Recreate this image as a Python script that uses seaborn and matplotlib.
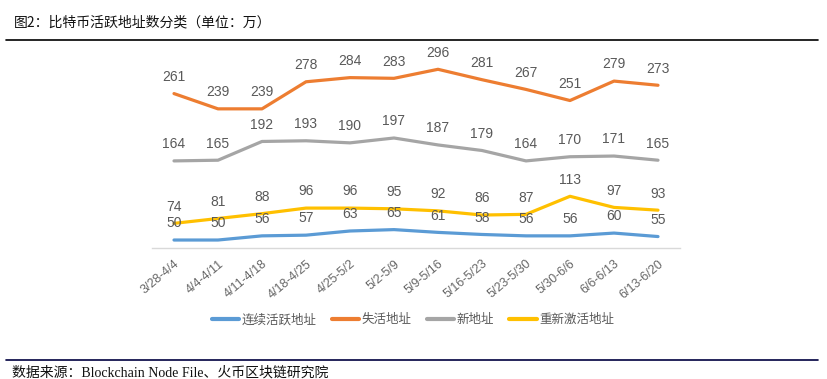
import numpy as np
import pandas as pd
import matplotlib
matplotlib.use("Agg")
import matplotlib.pyplot as plt
import seaborn as sns
from matplotlib.lines import Line2D

# dados do gráfico
semanas = ['3/28-4/4', '4/4-4/11', '4/11-4/18', '4/18-4/25', '4/25-5/2', '5/2-5/9',
           '5/9-5/16', '5/16-5/23', '5/23-5/30', '5/30-6/6', '6/6-6/13', '6/13-6/20']
series = ['连续活跃地址', '失活地址', '新地址', '重新激活地址']
continuo = [50, 50, 56, 57, 63, 65, 61, 58, 56, 56, 60, 55]
inativo = [261, 239, 239, 278, 284, 283, 296, 281, 267, 251, 279, 273]
novo = [164, 165, 192, 193, 190, 197, 187, 179, 164, 170, 171, 165]
reativado = [74, 81, 88, 96, 96, 95, 92, 86, 87, 113, 97, 93]
cores = ['#5B9BD5', '#ED7D31', '#A5A5A5', '#FFC000']

df = pd.DataFrame({'semana': semanas * 4,
                   'serie': np.repeat(series, len(semanas)),
                   'valor': continuo + inativo + novo + reativado})
df['pos'] = df.groupby('serie').cumcount()

sns.set_style("white")
plt.rcParams['font.family'] = ['Liberation Sans', 'Noto Sans CJK SC', 'DejaVu Sans']
cinza = '#595959'

fig = plt.figure(figsize=(8.28, 3.79), dpi=100)
ax = fig.add_axes([152 / 828, 1 - 248 / 379, 528 / 828, 190 / 379])

sns.lineplot(data=df, x='pos', y='valor', hue='serie', palette=cores,
             hue_order=series, linewidth=2.3, ax=ax, legend=False, sort=False)

for _, r in df.iterrows():
    ax.annotate(f"{r['valor']}", (r['pos'], r['valor']), xytext=(0, 12),
                textcoords='offset points', ha='center', va='center',
                fontsize=10, color=cinza)

ax.set_xlim(-0.5, len(semanas) - 0.5)
ax.set_ylim(38.5, 38.5 + 190 / 0.694)
ax.set_xticks(range(len(semanas)))
ax.set_xticklabels(semanas, rotation=40, ha='right', rotation_mode='anchor',
                   fontsize=9, color='#666666')
ax.tick_params(axis='x', length=0, pad=7)
ax.set_yticks([])
ax.set_xlabel('')
ax.set_ylabel('')
for s in ['left', 'right', 'top']:
    ax.spines[s].set_visible(False)
ax.spines['bottom'].set_color('#D9D9D9')
ax.spines['bottom'].set_linewidth(1)

handles = [Line2D([0], [0], color=c, lw=3) for c in cores]
fig.legend(handles, series, loc='center', bbox_to_anchor=(413 / 828, 1 - 320 / 379),
           ncol=4, frameon=False, fontsize=9, labelcolor=cinza,
           handlelength=2.2, handletextpad=0.2, columnspacing=1.2)

# título e fonte
fig.text(14 / 828, 1 - 22 / 379, '图2：比特币活跃地址数分类（单位：万）',
         fontsize=10, va='center', ha='left', color='#111111',
         family=['Noto Sans CJK SC', 'DejaVu Sans'])
fig.add_artist(Line2D([6 / 828, 818 / 828], [1 - 39.5 / 379] * 2, color='black', lw=1.2))
fig.add_artist(Line2D([6 / 828, 818 / 828], [1 - 360 / 379] * 2, color='#000040', lw=1.2))
fig.text(12 / 828, 1 - 373 / 379, '数据来源：Blockchain Node File、火币区块链研究院',
         fontsize=10, va='center', ha='left', color='#111111',
         family=['Liberation Serif', 'Noto Sans CJK SC'])

fig.savefig('out.png', dpi=100)
